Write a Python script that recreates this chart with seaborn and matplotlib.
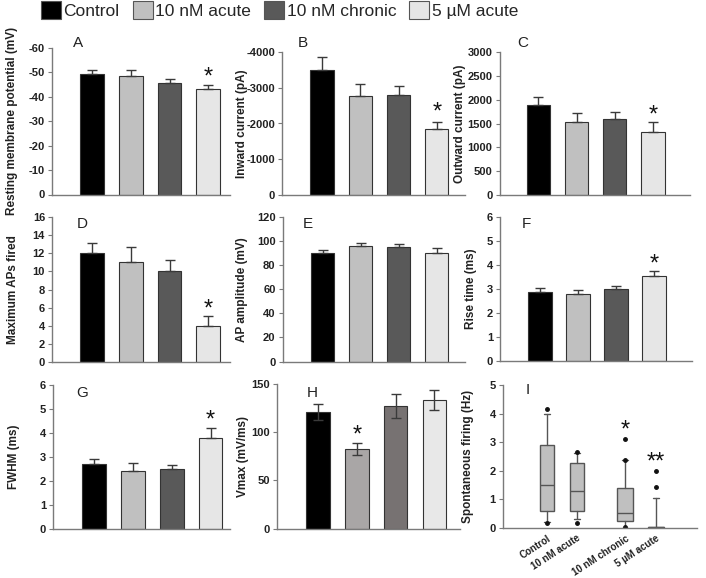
import matplotlib
matplotlib.use("Agg")
import matplotlib.pyplot as plt
import matplotlib.transforms as mtransforms
import seaborn as sns
from matplotlib.patches import Patch

sns.set_style("ticks")
plt.rcParams['font.family'] = ['Liberation Sans', 'DejaVu Sans']
plt.rcParams['axes.unicode_minus'] = False

# ---------------- data ----------------
groups = ["Control", "10 nM acute", "10 nM chronic", "5 µM acute"]
colors = ["#000000", "#c0c0c0", "#595959", "#e6e6e6"]
colors_h = ["#000000", "#a9a5a5", "#787171", "#e8e8e8"]

rmp = [-49.3, -48.4, -45.7, -43.4]
rmp_err = [1.5, 2.4, 1.4, 1.5]
inward = [-3510, -2760, -2790, -1850]
inward_err = [340, 340, 250, 180]
outward = [1885, 1528, 1598, 1317]
outward_err = [161, 182, 140, 211]
max_aps = [12.0, 11.0, 10.0, 4.0]
max_aps_err = [1.15, 1.7, 1.3, 1.05]
ap_amp = [90.3, 95.8, 94.7, 90.3]
ap_amp_err = [2.2, 2.8, 2.8, 4.2]
rise = [2.90, 2.81, 2.99, 3.56]
rise_err = [0.13, 0.16, 0.16, 0.19]
fwhm = [2.69, 2.40, 2.48, 3.79]
fwhm_err = [0.21, 0.33, 0.19, 0.42]
vmax = [121.3, 83.0, 127.2, 133.4]
vmax_err = [8.3, 6.2, 12.6, 10.7]

# spontaneous firing (Hz) box summaries
box_labels = ["Control", "10 nM acute", "10 nM chronic", "5 µM acute"]
box_whislo = [0.21, 0.29, 0.0, 0.0]
box_q1 = [0.60, 0.60, 0.25, 0.0]
box_med = [1.51, 1.29, 0.50, 0.02]
box_q3 = [2.91, 2.25, 1.40, 0.04]
box_whishi = [3.98, 2.62, 2.37, 1.03]
box_fliers = [[4.16, 0.15], [2.64, 0.18], [3.10, 2.37, 0.03], [1.44, 2.0]]

W, H = 706, 578
fig = plt.figure(figsize=(W / 100, H / 100), dpi=100)


def add_ax(l, t, r, b):
    return fig.add_axes([l / W, 1 - b / H, (r - l) / W, (b - t) / H])


def style(ax, ylab, lab_off, width_px):
    for s in ["top", "right"]:
        ax.spines[s].set_visible(False)
    for s in ["left", "bottom"]:
        ax.spines[s].set_color("#7a7a7a")
        ax.spines[s].set_linewidth(1.0)
    ax.tick_params(axis="y", length=3, width=0.8, color="#7a7a7a",
                   labelsize=8, pad=2, labelcolor="#222222")
    for t in ax.get_yticklabels():
        t.set_fontweight("bold")
    ax.set_ylabel(ylab, fontsize=8.5, fontweight="bold", color="#222222")
    ax.yaxis.set_label_coords(-(lab_off - 6) / width_px, 0.5)


def star(ax, x, y, s="*"):
    tr = mtransforms.offset_copy(ax.transData, fig=fig, x=0, y=-4, units="dots")
    ax.text(x, y, s, ha="center", va="center", fontsize=17, color="#111111",
            transform=tr)


panels = [
    ("A", (52, 48, 230, 194.5), rmp, rmp_err, (0, -60), range(0, -61, -10),
     "Resting membrane potential (mV)", 40, (-1.03, 3.56), [(3, -49.7)], colors, False),
    ("B", (282, 52, 465, 195), inward, inward_err, (0, -4000), range(0, -4001, -1000),
     "Inward current (pA)", 40, (-1.05, 3.74), [(3, -2430)], colors, False),
    ("C", (499.5, 52, 690, 195), outward, outward_err, (0, 3000), range(0, 3001, 500),
     "Outward current (pA)", 40, (-1.02, 3.97), [(3, 1750)], colors, False),
    ("D", (52, 217, 230, 362), max_aps, max_aps_err, (0, 16), range(0, 17, 2),
     "Maximum APs fired", 39, (-1.03, 3.56), [(3, 6.2)], colors, False),
    ("E", (282.5, 217, 465, 361.5), ap_amp, ap_amp_err, (0, 120), range(0, 121, 20),
     "AP amplitude (mV)", 41, (-1.05, 3.74), [], colors, False),
    ("F", (500, 217, 692, 361.3), rise, rise_err, (0, 6), range(0, 7),
     "Rise time (ms)", 29, (-1.05, 4.0), [(3, 4.2)], colors, False),
    ("G", (53, 385, 230, 528.7), fwhm, fwhm_err, (0, 6), range(0, 7),
     "FWHM (ms)", 39, (-1.05, 3.5), [(3, 4.7)], colors, False),
    ("H", (277, 384, 460, 528.7), vmax, vmax_err, (0, 150), range(0, 151, 50),
     "Vmax (mV/ms)", 34, (-1.06, 3.66), [(1, 100.6)], colors_h, True),
]

label_pos = {"A": (78, 43), "B": (303, 43), "C": (523, 43),
             "D": (82, 224), "E": (308, 224), "F": (526, 224),
             "G": (82, 393), "H": (312, 393), "I": (528, 390)}

for key, rect, vals, err, ylim, yticks, ylab, laboff, xlim, stars, cols, sym in panels:
    ax = add_ax(*rect)
    sns.barplot(x=groups, y=vals, hue=groups, order=groups, hue_order=groups,
                palette=cols, width=0.61, edgecolor="#333333", linewidth=0.8,
                legend=False, ax=ax)
    xs = list(range(len(groups)))
    if sym:
        yerr = [err, err]
    elif ylim[1] < 0:
        yerr = [err, [0] * len(err)]
    else:
        yerr = [[0] * len(err), err]
    ax.errorbar(xs, vals, yerr=yerr, fmt="none", ecolor="#3a3a3a",
                elinewidth=1.0, capsize=3.5, capthick=1.0, zorder=5)
    ax.set_ylim(*ylim)
    ax.set_yticks(list(yticks))
    ax.set_xlim(*xlim)
    ax.set_xticks([])
    ax.set_xlabel("")
    style(ax, ylab, laboff, rect[2] - rect[0])
    for sx, sy in stars:
        star(ax, sx, sy)

# ---------- panel I: box plot ----------
rectI = (502.7, 385, 697, 527.7)
axI = add_ax(*rectI)
stats = []
for i, lab in enumerate(box_labels):
    stats.append(dict(label=lab, whislo=box_whislo[i], q1=box_q1[i], med=box_med[i],
                      q3=box_q3[i], whishi=box_whishi[i], fliers=box_fliers[i]))
positions = [0, 1, 2.62, 3.66]
axI.bxp(stats, positions=positions, widths=[0.46, 0.46, 0.56, 0.53],
        patch_artist=True, showfliers=True,
        boxprops=dict(facecolor="#c0c0c0", edgecolor="#555555", linewidth=1.0),
        medianprops=dict(color="#555555", linewidth=1.0),
        whiskerprops=dict(color="#555555", linewidth=1.0),
        capprops=dict(color="#555555", linewidth=1.0),
        capwidths=0.2,
        flierprops=dict(marker="o", markersize=2.5, markerfacecolor="#111111",
                        markeredgecolor="#111111"))
axI.set_ylim(0, 5)
axI.set_yticks(range(0, 6))
axI.set_xlim(-1.5, 5.04)
axI.set_xticks(positions)
axI.set_xticklabels(box_labels, rotation=33, ha="right", va="top",
                    rotation_mode="anchor", fontsize=7, fontweight="bold",
                    color="#222222")
axI.tick_params(axis="x", length=0, pad=4)
style(axI, "Spontaneous firing (Hz)", 35, rectI[2] - rectI[0])
star(axI, 2.62, 3.54)
star(axI, 3.66, 2.43, "**")

for k, (px, py) in label_pos.items():
    fig.text(px / W, 1 - py / H, k, ha="center", va="center", fontsize=11,
             color="#222222")

handles = [Patch(facecolor=c, edgecolor="#555555", linewidth=0.8) for c in colors]
fig.legend(handles, groups, loc="upper left", bbox_to_anchor=(40 / W, 1.0),
           ncol=4, frameon=False, fontsize=12.5, handlelength=1.15,
           handleheight=1.2, handletextpad=0.15, columnspacing=0.75,
           borderaxespad=0, borderpad=0.05)

fig.savefig("out.png", dpi=100)
